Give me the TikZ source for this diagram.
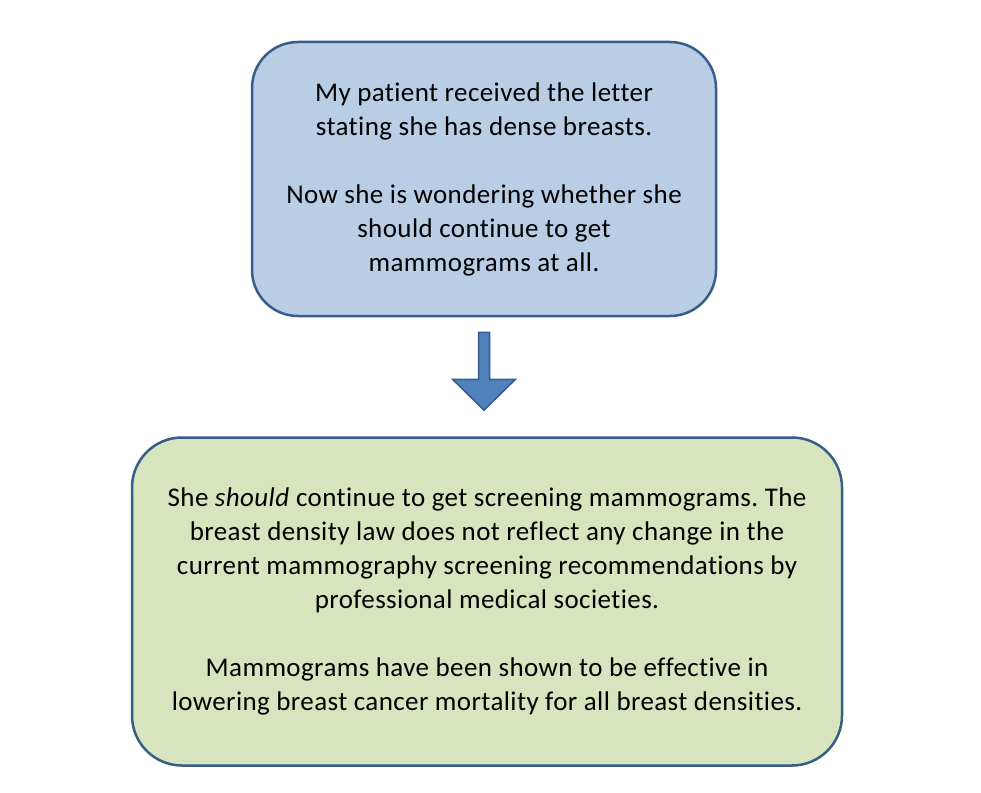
\documentclass[tikz,border=0pt]{standalone}
\usepackage{fontspec}
\setmainfont{Carlito}[Ligatures=NoCommon,LetterSpace=1.5]
\usetikzlibrary{positioning,calc}
\definecolor{boxline}{HTML}{385D8A}
\definecolor{askfill}{HTML}{B9CDE5}
\definecolor{answerfill}{HTML}{D7E4BD}
\definecolor{arrowfill}{HTML}{4F81BD}
\frenchspacing
\tikzset{
	flow/.style={x=1pt,y=-1pt,node distance=119pt},
	card/.style={rectangle,draw=boxline,line width=2.5pt,align=center,inner sep=0pt,
		font=\fontsize{27}{34}\selectfont},
	question/.style={card,fill=askfill,rounded corners=46pt,minimum width=464pt,minimum height=274pt},
	answer/.style={card,fill=answerfill,rounded corners=50pt,minimum width=710pt,minimum height=328pt},
	blockarrow/.style={draw=boxline,fill=arrowfill,line width=1.5pt,line join=miter}
}

\begin{document}
\begin{tikzpicture}[flow]
	
	\useasboundingbox (0,0) rectangle (981,792);
	\node[question] (q) at (484,179) {My patient received the letter\\ stating she has dense breasts.\\[34pt]
		Now she is wondering whether she\\ should continue to get\\ mammograms at all.};
	\node[answer] (a) [below=of q, xshift=3pt] {She \textit{should} continue to get screening mammograms. The\\
		breast density law does not reflect any change in the\\
		current mammography screening recommendations by\\
		professional medical societies.\\[34pt]
		Mammograms have been shown to be effective in\\
		lowering breast cancer mortality for all breast densities.};
	
	\coordinate (start) at ($(q.south)+(0,15)$);
	\draw[blockarrow] (start) ++(-5.5,0) -- ++(0,47) -- ++(-26,0) -- ++(31.5,31)
		-- ++(31.5,-31) -- ++(-26,0) -- ++(0,-47) -- cycle;
	
\end{tikzpicture}
\end{document}
